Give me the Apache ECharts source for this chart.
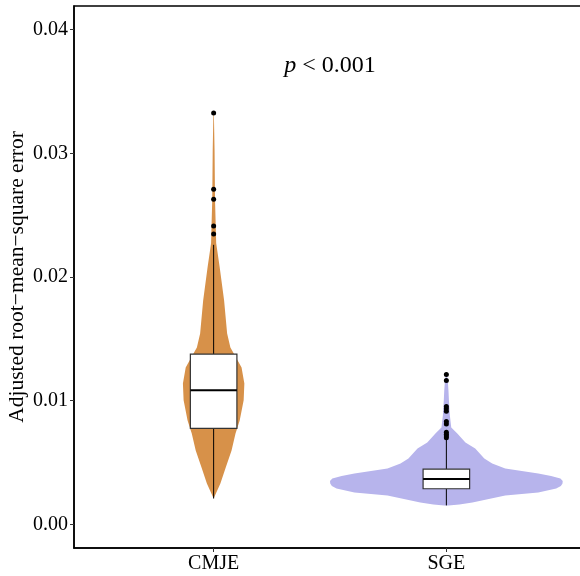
<!DOCTYPE html>
<html>
<head>
<meta charset="utf-8">
<script src="https://cdn.jsdelivr.net/npm/echarts@6/dist/echarts.min.js"></script>
<style>
  html, body { margin: 0; padding: 0; background: #fff; }
  #main { width: 580px; height: 576px; }
</style>
</head>
<body>
<div id="main"></div>
<script>
// categories
const categories = ['CMJE', 'SGE'];

// violin outline: value levels and half width (x units) at each level
const cmjeLevels = [0.0021, 0.00332, 0.00461, 0.00598, 0.00736, 0.00841, 0.01003, 0.0114, 0.01269, 0.01383, 0.01431, 0.01544, 0.01811, 0.02078, 0.02272, 0.02418, 0.0262, 0.03024, 0.03323];
const cmjeHalfWidth = [0, 0.029, 0.052, 0.077, 0.094, 0.112, 0.129, 0.132, 0.120, 0.086, 0.072, 0.058, 0.045, 0.026, 0.011, 0.009, 0.006, 0.004, 0.001];
const sgeLevels = [0.00154, 0.00162, 0.00178, 0.00235, 0.00259, 0.00291, 0.00312, 0.00332, 0.00352, 0.00372, 0.00392, 0.00412, 0.00453, 0.00493, 0.00534, 0.00615, 0.00663, 0.00736, 0.00784, 0.00881, 0.01003, 0.01084, 0.01164, 0.01221];
const sgeHalfWidth = [0.009, 0.056, 0.112, 0.253, 0.395, 0.472, 0.492, 0.499, 0.500, 0.490, 0.450, 0.395, 0.253, 0.197, 0.163, 0.124, 0.082, 0.047, 0.021, 0.015, 0.011, 0.009, 0.006, 0.001];

// box stats: [lower whisker, q1, median, q3, upper whisker]
const cmjeBox = [0.0021, 0.00777, 0.01085, 0.01377, 0.0226];
const sgeBox = [0.00154, 0.00289, 0.00367, 0.00448, 0.0069];

// outliers
const cmjeOutliers = [0.03326, 0.0271, 0.02629, 0.02413, 0.02348];
const sgeOutliers = [0.01213, 0.01164, 0.00954, 0.00935, 0.00915, 0.00833, 0.00812, 0.00745, 0.0073, 0.00715, 0.007];

const yTicks = [0, 0.01, 0.02, 0.03, 0.04];
const xTicks = [1, 2];
const violinColors = ['#D79149', '#B7B4EC'];

const violins = [
  { levels: cmjeLevels, half: cmjeHalfWidth },
  { levels: sgeLevels, half: sgeHalfWidth }
];
const boxes = [cmjeBox, sgeBox];

const font = 'Liberation Serif';
const chart = echarts.init(document.getElementById('main'));

// 小提琴轮廓
function renderViolin(params, api) {
  const i = params.dataIndex;
  const x = api.value(0);
  const v = violins[i];
  const right = [], left = [];
  for (let k = 0; k < v.levels.length; k++) {
    right.push(api.coord([x + v.half[k], v.levels[k]]));
    left.push(api.coord([x - v.half[k], v.levels[k]]));
  }
  const pts = right.concat(left.reverse());
  return {
    type: 'polygon',
    shape: { points: pts },
    style: { fill: violinColors[i], stroke: null }
  };
}

// 箱线图
function renderBox(params, api) {
  const i = params.dataIndex;
  const x = api.value(0);
  const b = boxes[i];
  const hw = 0.1;
  const pLo = api.coord([x, b[0]]);
  const pQ1 = api.coord([x, b[1]]);
  const pMed = api.coord([x, b[2]]);
  const pQ3 = api.coord([x, b[3]]);
  const pHi = api.coord([x, b[4]]);
  const xl = api.coord([x - hw, 0])[0];
  const xr = api.coord([x + hw, 0])[0];
  const lineStyle = { stroke: '#000', lineWidth: 1 };
  return {
    type: 'group',
    children: [
      { type: 'line', shape: { x1: pHi[0], y1: pHi[1], x2: pQ3[0], y2: pQ3[1] }, style: lineStyle },
      { type: 'line', shape: { x1: pQ1[0], y1: pQ1[1], x2: pLo[0], y2: pLo[1] }, style: lineStyle },
      { type: 'rect', shape: { x: xl, y: pQ3[1], width: xr - xl, height: pQ1[1] - pQ3[1] },
        style: { fill: '#fff', stroke: '#333', lineWidth: 1.2 } },
      { type: 'line', shape: { x1: xl, y1: pMed[1], x2: xr, y2: pMed[1] },
        style: { stroke: '#000', lineWidth: 2 } }
    ]
  };
}

const outlierData = [];
cmjeOutliers.forEach(v => outlierData.push([1, v]));
sgeOutliers.forEach(v => outlierData.push([2, v]));

const option = {
  animation: false,
  grid: {
    left: 74, right: -6, top: 6, bottom: 28,
    outerBoundsMode: 'none',
    containLabel: false,
    show: true, borderColor: '#000', borderWidth: 1.5, backgroundColor: '#fff'
  },
  xAxis: {
    type: 'value',
    min: 0.4, max: 2.6,
    splitLine: { show: false },
    axisLine: { show: true, onZero: false, lineStyle: { color: '#000', width: 1.5 } },
    axisTick: { show: true, customValues: xTicks, length: 4, lineStyle: { color: '#333' } },
    axisLabel: {
      customValues: xTicks,
      formatter: v => categories[Math.round(v) - 1],
      color: '#000', fontFamily: font, fontSize: 20, margin: 6
    }
  },
  yAxis: {
    type: 'value',
    min: -0.0019, max: 0.0419,
    splitLine: { show: false },
    axisLine: { show: true, onZero: false, lineStyle: { color: '#000', width: 1.5 } },
    axisTick: { show: true, customValues: yTicks, length: 4, lineStyle: { color: '#333' } },
    axisLabel: {
      customValues: yTicks,
      formatter: v => v.toFixed(2),
      color: '#000', fontFamily: font, fontSize: 20, margin: 6
    },
    name: 'Adjusted root\u2212mean\u2212square error',
    nameLocation: 'middle',
    nameGap: 46,
    nameMoveOverlap: false,
    nameTextStyle: { color: '#000', fontFamily: font, fontSize: 21.5 }
  },
  graphic: [{
    type: 'text',
    x: 330, y: 66,
    style: {
      text: '{i|p} < 0.001',
      align: 'center', verticalAlign: 'middle',
      fontFamily: font, fontSize: 24, fill: '#000',
      rich: { i: { fontStyle: 'italic', fontFamily: font, fontSize: 24 } }
    }
  }],
  series: [
    {
      type: 'custom',
      renderItem: renderViolin,
      data: [[1, 0.01], [2, 0.01]],
      encode: { x: 0, y: 1 },
      z: 2
    },
    {
      type: 'custom',
      renderItem: renderBox,
      data: [[1, 0.01], [2, 0.01]],
      encode: { x: 0, y: 1 },
      z: 3
    },
    {
      type: 'scatter',
      data: outlierData,
      symbolSize: 5,
      itemStyle: { color: '#000', opacity: 1 },
      z: 4
    }
  ]
};

chart.setOption(option);
</script>
</body>
</html>
